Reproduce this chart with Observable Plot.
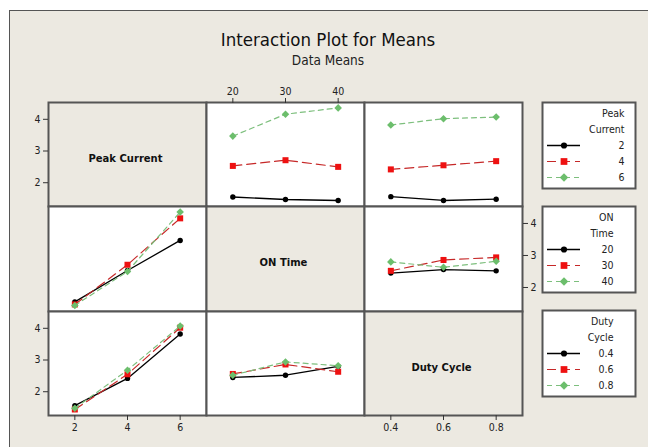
<!DOCTYPE html>
<html>
<head>
<meta charset="utf-8">
<script src="https://cdn.jsdelivr.net/npm/d3@7"></script>
<script src="https://cdn.jsdelivr.net/npm/@observablehq/plot@0.6"></script>
<style>
  body { margin: 0; background: #fff; }
  #chart { position: relative; width: 648px; height: 447px; overflow: hidden; background: #fff; }
  #bg { position: absolute; left: 9px; top: 10px; width: 660px; height: 460px; background: #ECE9E1; border: 1px solid #555; }
  .abs { position: absolute; }
  .title { position: absolute; left: 8px; width: 640px; text-align: center; font-family: 'DejaVu Sans Condensed', 'DejaVu Sans', sans-serif; color: #111; }
</style>
</head>
<body>
<div id="chart">
  <div id="bg"></div>
  <div class="title" style="top:29px;font-size:18.5px;">Interaction Plot for Means</div>
  <div class="title" style="top:52px;font-size:13.5px;color:#222;">Data Means</div>
</div>
<script>
// ---------- data ----------
const factorNames = ["Peak Current", "ON Time", "Duty Cycle"];
const legendTitles = [["Peak", "Current"], ["ON", "Time"], ["Duty", "Cycle"]];
const peakCurrent = [2, 4, 6];
const onTime = [20, 30, 40];
const dutyCycle = [0.4, 0.6, 0.8];
// means: rows = first factor levels, columns = second factor levels
const meansPeakOn = [
  [1.55, 1.47, 1.44],
  [2.53, 2.71, 2.50],
  [3.47, 4.16, 4.36]
];
const meansPeakDuty = [
  [1.56, 1.44, 1.48],
  [2.42, 2.55, 2.68],
  [3.82, 4.02, 4.07]
];
const meansOnDuty = [
  [2.45, 2.56, 2.52],
  [2.52, 2.86, 2.94],
  [2.80, 2.63, 2.82]
];
const yTicks = [2, 3, 4];

// ---------- styling / layout ----------
const factors = [peakCurrent, onTime, dutyCycle];
const tables = { "0-1": meansPeakOn, "0-2": meansPeakDuty, "1-2": meansOnDuty };
const xDomains = [[1, 7], [15, 45], [0.3, 0.9]];
const yDomain = [1.25, 4.53];
const seriesStyle = [
  { line: "#000000", fill: "#000000", symbol: "circle", r: 2.7, dash: null, width: 1.3 },
  { line: "#C62828", fill: "#EE1111", symbol: "square", r: 3.4, dash: "9,5", width: 1.2 },
  { line: "#7DBF7D", fill: "#6CBE6C", symbol: "diamond2", r: 3.4, dash: "5,4", width: 1.2 }
];
const colLeft = [48, 206, 364];
const rowTop = [102, 206, 311];
const rowH = [104, 105, 104];
const panelW = 158;
const M = 30;
const beige = "#ECE9E1";
const borderColor = "#555";
const fontFam = "'DejaVu Sans Condensed', 'DejaVu Sans', sans-serif";

function value(r, c, i, j) {
  if (r < c) return tables[r + "-" + c][i][j];
  return tables[c + "-" + r][j][i];
}

const chart = document.getElementById("chart");

function place(node, left, top) {
  const d = document.createElement("div");
  d.className = "abs";
  d.style.left = left + "px";
  d.style.top = top + "px";
  d.appendChild(node);
  chart.appendChild(d);
}

const baseStyle = { fontFamily: fontFam, fontSize: "10.5px", color: "#222", background: "transparent", overflow: "visible", maxWidth: "none" };

for (let r = 0; r < 3; r++) {
  for (let c = 0; c < 3; c++) {
    const marks = [];
    if (r === c) {
      marks.push(Plot.frame({ fill: beige, stroke: borderColor, strokeWidth: 2 }));
      marks.push(Plot.text([factorNames[r]], {
        frameAnchor: "middle", dx: -2, dy: 4, fontWeight: "bold", fontSize: 10,
        fontFamily: "'DejaVu Sans', sans-serif", fill: "#111"
      }));
    } else {
      marks.push(Plot.frame({ fill: "white" }));
      factors[r].forEach((lev, i) => {
        const data = factors[c].map((xv, j) => ({ x: xv, y: value(r, c, i, j) }));
        const s = seriesStyle[i];
        marks.push(Plot.line(data, { x: "x", y: "y", stroke: s.line, strokeWidth: s.width, strokeDasharray: s.dash }));
        marks.push(Plot.dot(data, { x: "x", y: "y", symbol: s.symbol, fill: s.fill, stroke: "none", r: s.r }));
      });
      marks.push(Plot.frame({ stroke: borderColor, strokeWidth: 2 }));
    }
    // axes
    const axOpts = { tickSize: 5, tickPadding: 3, label: null, stroke: "#333" };
    if (c === 0 && (r === 0 || r === 2)) marks.push(Plot.axisY(yTicks, { anchor: "left", ...axOpts }));
    if (c === 2 && r === 1) marks.push(Plot.axisY(yTicks, { anchor: "right", ...axOpts }));
    if (r === 0 && c === 1) marks.push(Plot.axisX(factors[c], { anchor: "top", ...axOpts }));
    if (r === 2 && (c === 0 || c === 2)) marks.push(Plot.axisX(factors[c], { anchor: "bottom", ...axOpts }));

    const p = Plot.plot({
      width: panelW + 2 * M,
      height: rowH[r] + 2 * M,
      margin: M,
      x: { domain: xDomains[c], axis: null },
      y: { domain: yDomain, axis: null },
      style: baseStyle,
      marks
    });
    place(p, colLeft[c] - M, rowTop[r] - M);
  }
}

// ---------- legends ----------
const legendTop = [101, 205, 309];
const legendTextRight = [82, 71, 71];
for (let k = 0; k < 3; k++) {
  const labels = factors[k].map(String);
  const rows = ["title0", "title1", ...labels];
  const tx = legendTextRight[k];
  const marks = [
    Plot.frame({ fill: "white", stroke: borderColor, strokeWidth: 2 }),
    Plot.text(legendTitles[k], { x: tx, y: (d, i) => rows[i], textAnchor: "end", fill: "#222" })
  ];
  labels.forEach((lab, i) => {
    const s = seriesStyle[i];
    marks.push(Plot.ruleY([lab], { y: d => d, x1: 5, x2: 38, stroke: s.line, strokeWidth: s.width, strokeDasharray: s.dash }));
    marks.push(Plot.dot([lab], { y: d => d, x: 21.5, symbol: s.symbol, fill: s.fill, stroke: "none", r: s.r + 0.4 }));
    marks.push(Plot.text([lab], { y: d => d, x: tx, textAnchor: "end", fill: "#222" }));
  });
  const lp = Plot.plot({
    width: 95, height: 88, margin: 1,
    x: { domain: [0, 93], range: [1, 94], axis: null },
    y: { type: "point", domain: rows, range: [12, 76], padding: 0, axis: null },
    style: { ...baseStyle, fontSize: "10.5px" },
    marks
  });
  place(lp, 541, legendTop[k]);
}
</script>
</body>
</html>
